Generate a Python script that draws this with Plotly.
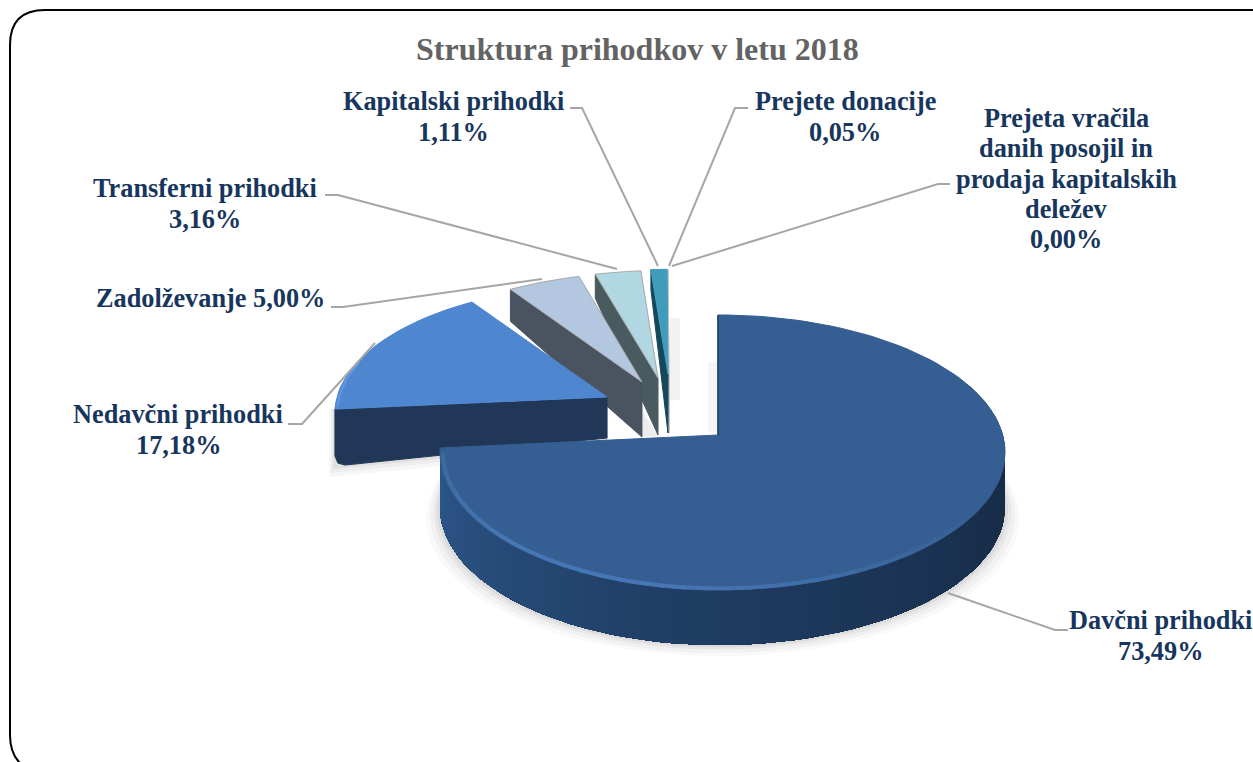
import math
import plotly.graph_objects as go

# ---- chart data ----
title_text = "Struktura prihodkov v letu 2018"
categories = ["Davčni prihodki", "Nedavčni prihodki", "Zadolževanje", "Transferni prihodki",
              "Kapitalski prihodki", "Prejete donacije",
              "Prejeta vračila danih posojil in prodaja kapitalskih deležev"]
shares = [73.49, 17.18, 5.00, 3.16, 1.11, 0.05, 0.00]
label_texts = [["Davčni prihodki", "73,49%"], ["Nedavčni prihodki", "17,18%"], ["Zadolževanje 5,00%"],
               ["Transferni prihodki", "3,16%"], ["Kapitalski prihodki", "1,11%"], ["Prejete donacije", "0,05%"],
               ["Prejeta vračila", "danih posojil in", "prodaja kapitalskih", "deležev", "0,00%"]]

# ---- styling and layout of the drawing (pixel-mapped axes) ----
W, H = 1253, 762
K = 0.127
LINE_GAP = 30.3
top_colors = ["#355E92", "#4F86D0", "#B4C7E0", "#B0D7E2", "#3F9CBB", "#C4C4C4", "#C4C4C4"]
wall_colors = ["#2A5587", "#213757", "#4A5460", "#4A5B60", "#14485A", "#B0B0B0", "#B0B0B0"]
edge_colors = ["#355E92", "#4F86D0", "#A8A8A8", "#A8A8A8", "#3F9CBB", "#C4C4C4", "#C4C4C4"]
# tip x, tip y, radius to the left, radius to the right, vertical radius, wall at tip, wall at rim
slice_geom = [
    (718, 435, 275.7, 284.7, 135.3, 55, 55),
    (607, 397, 270, 270, 126, 41, 56),
    (642, 382, 263, 263, 123, 55, 32),
    (658, 378, 262, 262, 121, 57, 24),
    (668, 374, 262, 262, 118, 59, 20),
    (669, 374, 262, 262, 118, 59, 20),
    (669, 374, 262, 262, 118, 59, 20),
]
label_pos = [(1160, 636), (178, 430), (210, 298), (205, 204), (453, 117), (845, 117), (1066, 179)]
leader_x = [[948, 1055, 1068], [375, 302, 288], [542, 343, 331], [617, 338, 325],
            [658, 582, 570], [669, 735, 748], [672, 938, 950]]
leader_y = [[593, 630, 630], [343, 424, 424], [279, 307, 307], [269, 195, 195],
            [266, 108, 108], [266, 108, 108], [266, 184, 184]]

# slice angle limits from the values
limits = []
acc = 0.0
for v in shares:
    limits.append((acc * 3.6, (acc + v) * 3.6))
    acc += v


def rim(i, deg, scale=1.0):
    tx, ty, rl, rr, hh, _, _ = slice_geom[i]
    t = math.radians(deg)
    sx, cz = math.sin(t), math.cos(t)
    d = 1 + K * cz
    r = rr if sx > 0 else rl
    return tx + scale * r * sx / d, ty - scale * hh * cz / d


def arc(i, a, b, n, scale=1.0):
    pts = [rim(i, a + (b - a) * j / n, scale) for j in range(n + 1)]
    return [p[0] for p in pts], [p[1] for p in pts]


def hex2rgb(c):
    return tuple(int(c[k:k + 2], 16) for k in (1, 3, 5))


def mix(c1, c2, f):
    a, b = hex2rgb(c1), hex2rgb(c2)
    return "rgb(%d,%d,%d)" % tuple(round(a[k] + (b[k] - a[k]) * f) for k in range(3))


fig = go.Figure()


def poly(xs, ys, fill, line=None, width=1, name=None):
    fig.add_trace(go.Scatter(x=xs, y=ys, mode="lines", fill="toself", fillcolor=fill,
                             line=dict(color=line or fill, width=width),
                             hoverinfo="skip" if name is None else "text", text=name,
                             showlegend=False))


def stroke(xs, ys, color, width):
    fig.add_trace(go.Scatter(x=xs, y=ys, mode="lines", line=dict(color=color, width=width),
                             hoverinfo="skip", showlegend=False))


# soft shadows
for e, a in ((14, 0.025), (10, 0.03), (6, 0.04), (3, 0.05)):
    xs, ys = arc(0, 70, 285, 60)
    poly([x + (x - 720) * e / 280 for x in xs], [y + 55 + e * 0.8 for y in ys], "rgba(0,0,0,%g)" % a,
         line="rgba(0,0,0,0)", width=0)
for e, a in ((12, 0.03), (8, 0.04), (4, 0.05)):
    lx, ly = rim(1, limits[1][0])
    poly([lx - e / 2, 608, 608, lx - e / 2],
         [ly, 397, 397 + 41 + e, ly + 56 + e], "rgba(0,0,0,%g)" % a, line="rgba(0,0,0,0)", width=0)

# slices far to near: small ones first, the largest last
for i in (6, 5, 4, 3, 2, 1):
    a, b = limits[i]
    if b - a <= 0:
        continue
    tx, ty, _, _, _, dt, dr = slice_geom[i]
    x0, y0 = rim(i, a)
    if i == 1:
        poly([tx, tx, x0 + 10, x0 + 3, x0, x0], [ty, ty + dt, y0 + dr, y0 + dr - 2, y0 + dr - 9, y0], wall_colors[i])
    else:
        poly([tx, tx, x0, x0], [ty, ty + dt, y0 + dr, y0], wall_colors[i])
    xs, ys = arc(i, a, b, 24)
    poly([tx] + xs + [tx], [ty] + ys + [ty], top_colors[i], line=edge_colors[i], name=categories[i])

# main slice: shaded wall, each band painted from its angle to the end so no seams show
wa, wb = limits[0]
tx, ty, _, _, _, _, dep = slice_geom[0]
steps = 70
start = 68.0
for j in range(steps):
    a = start + (wb - start) * j / steps
    f = j / (steps - 1)
    col = mix("#13253C", "#1F3B60", f / 0.57) if f < 0.57 else mix("#1F3B60", "#2C578B", (f - 0.57) / 0.43)
    xs, ys = arc(0, a, wb, max(2, steps - j))
    poly(xs + [x for x in reversed(xs)], ys + [y + dep for y in reversed(ys)], col, line="rgba(0,0,0,0)", width=0)

xs, ys = arc(0, wa, wb, 120)
poly([tx] + xs + [tx], [ty] + ys + [ty], top_colors[0], name=categories[0])
stroke([tx, tx], [ty, ty - 120], "#1F3B60", 1.5)

# light bevel along the near rim of the main slice
segs = 36
ra, rb = 118.0, 262.0
for j in range(segs):
    a = ra + (rb - ra) * j / segs
    b = ra + (rb - ra) * (j + 1) / segs
    f = j / (segs - 1)
    col = mix("#355E92", "#4677B4", min(1, f / 0.5)) if f < 0.75 else mix("#4677B4", "#3C699F", (f - 0.75) / 0.25)
    xx, yy = arc(0, a, b + 0.5, 2, 0.99)
    stroke(xx, yy, col, 4)

# lighter rim on the second slice
xs, ys = arc(1, limits[1][0] + 1, limits[1][0] + 22, 12, 0.992)
stroke(xs, ys, "#5E97E0", 2)

# leader lines
for lx, ly in zip(leader_x, leader_y):
    stroke(lx, ly, "#A6A6A6", 2)

annotations = [dict(x=637, y=49, text="<b>%s</b>" % title_text, showarrow=False,
                    font=dict(family="Liberation Serif", size=32, color="#636363"),
                    xanchor="center", yanchor="middle")]
for lines, (lx, ly) in zip(label_texts, label_pos):
    for n, txt in enumerate(lines):
        annotations.append(dict(x=lx, y=ly + (n - (len(lines) - 1) / 2) * LINE_GAP,
                                text="<b>%s</b>" % txt, showarrow=False, align="center",
                                font=dict(family="Liberation Serif", size=26.3, color="#17365D"),
                                xanchor="center", yanchor="middle"))

border = "M 1280 772 L 44 772 C 22 772 10 757 10 735 L 10 45 C 10 22 22 10 45 10 L 1280 10"

fig.update_layout(
    width=W, height=H, margin=dict(l=0, r=0, t=0, b=0),
    paper_bgcolor="white", plot_bgcolor="white", showlegend=False,
    xaxis=dict(range=[0, W], visible=False, fixedrange=True),
    yaxis=dict(range=[H, 0], visible=False, fixedrange=True),
    annotations=annotations,
    shapes=[dict(type="path", path=border, line=dict(color="black", width=2), layer="below"),
            dict(type="rect", x0=670, x1=680, y0=318, y1=400, fillcolor="rgba(0,0,0,0.05)", line_width=0, layer="below"),
            dict(type="rect", x0=708, x1=717, y0=362, y1=432, fillcolor="rgba(0,0,0,0.04)", line_width=0, layer="below"),
            dict(type="path", path="M 643 412 L 658 436 L 643 437 Z", fillcolor="rgba(0,0,0,0.07)", line_width=0, layer="below")],
)

fig.write_html("out.html", config=dict(displayModeBar=False),
               post_script="document.body.style.margin='0';document.body.style.overflow='hidden';")
